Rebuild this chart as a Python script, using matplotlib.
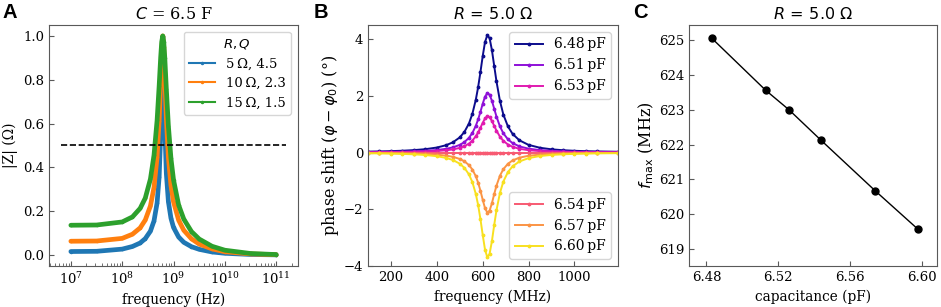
import numpy as np
import matplotlib
matplotlib.use('Agg')
import matplotlib.pyplot as plt

plt.rcParams['font.family'] = 'DejaVu Serif'
plt.rcParams['mathtext.fontset'] = 'dejavusans'
plt.rcParams['font.size'] = 9.5
plt.rcParams['xtick.direction'] = 'in'
plt.rcParams['ytick.direction'] = 'in'

# ---- panel A: |Z| vs frequency (log10 of Hz) ----
logf_A = [7.0, 7.5, 8.0, 8.2, 8.35, 8.45, 8.55, 8.62, 8.68, 8.72, 8.75, 8.77, 8.79,
          8.81, 8.83, 8.86, 8.9, 8.95, 9.0, 9.1, 9.2, 9.35, 9.5, 9.75, 10.0, 10.5, 11.0]
z_5 = [0.016, 0.017, 0.027, 0.039, 0.055, 0.075, 0.109, 0.156, 0.238, 0.357, 0.549, 0.782, 0.997,
       0.837, 0.587, 0.373, 0.244, 0.168, 0.126, 0.082, 0.058, 0.038, 0.026, 0.014, 0.008, 0.0025, 0.0008]
z_10 = [0.063, 0.064, 0.076, 0.095, 0.124, 0.160, 0.224, 0.309, 0.447, 0.613, 0.800, 0.932, 1.0,
        0.948, 0.819, 0.623, 0.446, 0.318, 0.243, 0.159, 0.113, 0.074, 0.050, 0.028, 0.015, 0.005, 0.0015]
z_15 = [0.136, 0.137, 0.151, 0.174, 0.213, 0.260, 0.347, 0.456, 0.615, 0.772, 0.903, 0.973, 1.0,
        0.972, 0.900, 0.758, 0.589, 0.441, 0.343, 0.228, 0.164, 0.107, 0.073, 0.040, 0.022, 0.007, 0.0022]
labels_A = ['5\u2009Ω, 4.5', '10\u2009Ω, 2.3', '15\u2009Ω, 1.5']
colors_A = ['#1f77b4', '#ff7f0e', '#2ca02c']

# ---- panel B: phase shift vs frequency (MHz) ----
f_B = [100, 150, 200, 250, 300, 350, 400, 440, 470, 500, 520, 540, 555, 570, 580, 590, 600, 610,
       620, 630, 640, 650, 660, 675, 690, 710, 730, 760, 800, 850, 900, 950, 1000, 1050, 1100, 1190]
ph_648 = [0.033, 0.041, 0.051, 0.065, 0.087, 0.120, 0.178, 0.259, 0.362, 0.535, 0.726, 1.025, 1.370,
          1.868, 2.307, 2.834, 3.403, 3.897, 4.142, 4.034, 3.619, 3.063, 2.511, 1.826, 1.340, 0.921,
          0.660, 0.432, 0.271, 0.169, 0.115, 0.083, 0.063, 0.049, 0.040, 0.029]
ph_651 = [0.017, 0.021, 0.026, 0.033, 0.044, 0.061, 0.090, 0.131, 0.183, 0.271, 0.368, 0.519, 0.693,
          0.945, 1.168, 1.434, 1.722, 1.972, 2.096, 2.041, 1.831, 1.550, 1.271, 0.924, 0.678, 0.466,
          0.334, 0.218, 0.137, 0.086, 0.058, 0.042, 0.032, 0.025, 0.020, 0.015]
ph_653 = [0.010, 0.013, 0.016, 0.020, 0.027, 0.037, 0.055, 0.080, 0.112, 0.165, 0.224, 0.316, 0.422,
          0.576, 0.712, 0.874, 1.050, 1.202, 1.277, 1.244, 1.116, 0.945, 0.774, 0.563, 0.413, 0.284,
          0.204, 0.133, 0.083, 0.052, 0.036, 0.026, 0.019, 0.015, 0.012, 0.009]
ph_654 = [0.0, 0.0, 0.0, 0.0, 0.0, 0.0, 0.0, 0.0, 0.0, 0.0, 0.0, 0.0, 0.0, 0.0, 0.0, 0.0, 0.0, 0.0,
          0.0, 0.0, 0.0, 0.0, 0.0, 0.0, 0.0, 0.0, 0.0, 0.0, 0.0, 0.0, 0.0, 0.0, 0.0, 0.0, 0.0, 0.0]
ph_657 = [-0.014, -0.017, -0.021, -0.027, -0.035, -0.049, -0.073, -0.107, -0.150, -0.225, -0.307,
          -0.441, -0.598, -0.837, -1.060, -1.342, -1.664, -1.961, -2.116, -2.046, -1.791, -1.467,
          -1.166, -0.818, -0.585, -0.394, -0.278, -0.180, -0.112, -0.070, -0.047, -0.034, -0.026,
          -0.020, -0.016, -0.012]
ph_660 = [-0.024, -0.029, -0.036, -0.047, -0.062, -0.086, -0.128, -0.187, -0.262, -0.392, -0.537,
          -0.770, -1.043, -1.462, -1.850, -2.342, -2.905, -3.423, -3.693, -3.571, -3.127, -2.560,
          -2.035, -1.428, -1.021, -0.688, -0.485, -0.314, -0.195, -0.121, -0.083, -0.060, -0.045,
          -0.035, -0.028, -0.021]
labels_B = ['6.48\u2009pF', '6.51\u2009pF', '6.53\u2009pF', '6.54\u2009pF', '6.57\u2009pF', '6.60\u2009pF']
colors_B = ['#0c0c8c', '#8e10d8', '#e01ab0', '#f75a72', '#fb9444', '#f8e020']

# ---- panel C: peak frequency vs capacitance ----
cap_C = [6.483, 6.513, 6.526, 6.544, 6.574, 6.598]
fmax_C = [625.05, 623.56, 623.0, 622.12, 620.68, 619.57]

fig = plt.figure(figsize=(9.41, 3.07), dpi=100)
ax1 = fig.add_axes([0.0524, 0.1336, 0.2640, 0.785])
ax2 = fig.add_axes([0.3911, 0.1336, 0.2657, 0.785])
ax3 = fig.add_axes([0.7322, 0.1336, 0.2635, 0.785])

for ax in (ax1, ax2, ax3):
    for s in ax.spines.values():
        s.set_color('0.35')
    ax.tick_params(which='both', color='0.35')

# A
fA = 10.0 ** np.array(logf_A)
for z, c, lab in zip([z_5, z_10, z_15], colors_A, labels_A):
    ax1.plot(fA, z, color=c, lw=3.4, solid_capstyle='round', solid_joinstyle='round')
    ax1.plot(fA, z, '.-', color=c, lw=1.5, ms=3, label=lab)
ax1.hlines(0.5, 10 ** 6.8, 10 ** 11.2, colors='k', linestyles='--', lw=1.2)
ax1.set_xscale('log')
ax1.set_xlim(10 ** 6.58, 10 ** 11.42)
ax1.set_ylim(-0.05, 1.05)
ax1.set_xticks([1e7, 1e8, 1e9, 1e10, 1e11])
ax1.set_xlabel('frequency (Hz)', fontsize=9.8)
ax1.set_ylabel('|Z| (Ω)', fontsize=10)
ax1.set_title('$C$ = 6.5 F', fontsize=11.5, pad=4)
ax1.legend(title='$R, Q$', loc='upper right', fontsize=9.5, title_fontsize=9.5)

# B
seriesB = [ph_648, ph_651, ph_653, ph_654, ph_657, ph_660]
lines = []
for y, c, lab in zip(seriesB, colors_B, labels_B):
    ln, = ax2.plot(f_B, y, '.-', color=c, lw=1.4, ms=3.5, label=lab)
    lines.append(ln)
leg1 = ax2.legend(handles=lines[:3], loc='upper right', fontsize=10)
ax2.add_artist(leg1)
ax2.legend(handles=lines[3:], loc='lower right', fontsize=10)
ax2.set_xlim(100, 1190)
ax2.set_ylim(-4, 4.5)
ax2.set_xticks([200, 400, 600, 800, 1000])
ax2.set_yticks([-4, -2, 0, 2, 4])
ax2.set_xlabel('frequency (MHz)', fontsize=9.8)
ax2.set_ylabel(r'phase shift ($\varphi - \varphi_0$) (°)', fontsize=11.5, labelpad=2)
ax2.set_title(r'$R\,=\,5.0\ \Omega$', fontsize=11.5, pad=4)

# C
ax3.plot(cap_C, fmax_C, 'o-', color='k', lw=1.0, ms=5)
ax3.set_xlim(6.4703, 6.6085)
ax3.set_ylim(618.52, 625.43)
ax3.set_xticks([6.48, 6.52, 6.56, 6.60])
ax3.set_xlabel('capacitance (pF)', fontsize=9.8)
ax3.set_ylabel(r'$f_\mathrm{max}$ (MHz)', fontsize=11.5, labelpad=2)
ax3.set_title(r'$R\,=\,5.0\ \Omega$', fontsize=11.5, pad=4)

for x, letter in [(0.003, 'A'), (0.333, 'B'), (0.673, 'C')]:
    fig.text(x, 0.99, letter, fontsize=14.5, fontweight='bold', family='Liberation Sans', va='top')

fig.savefig('out.png', dpi=100)
